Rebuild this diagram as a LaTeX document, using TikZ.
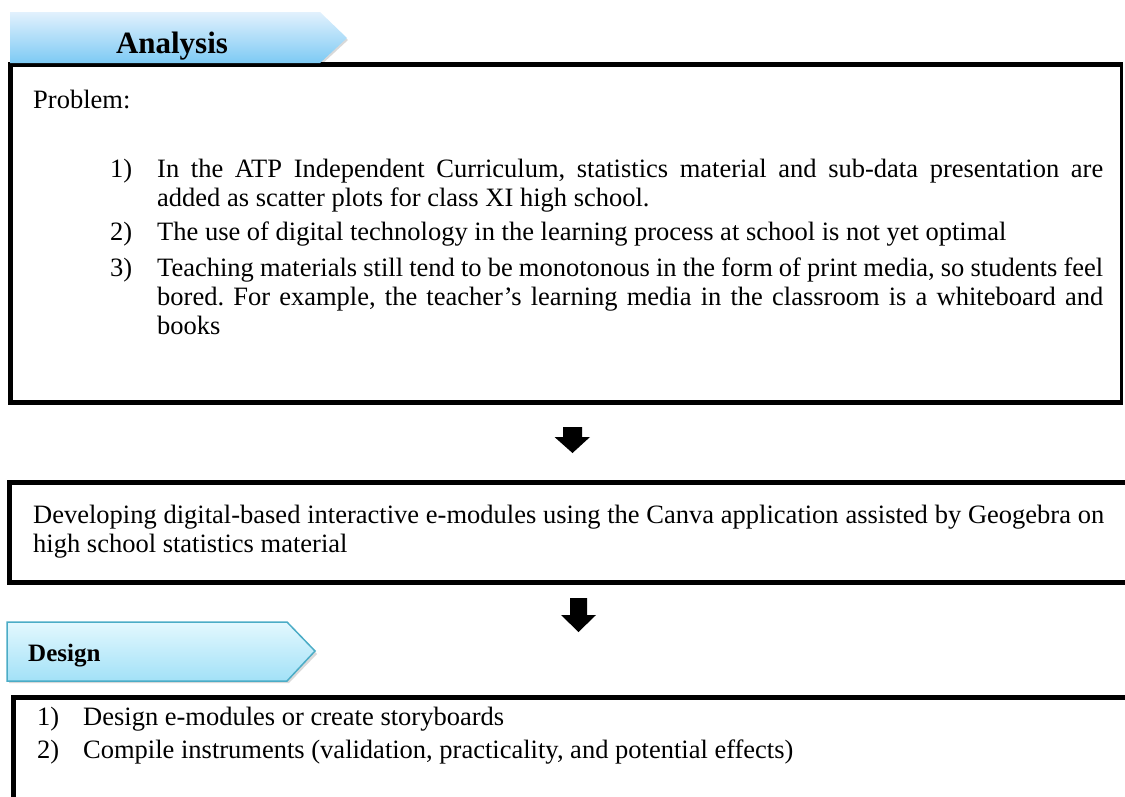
\documentclass[tikz,border=0pt]{standalone}
\usepackage{fontspec}
\setmainfont{Liberation Serif}
\frenchspacing
\definecolor{tagtopA}{HTML}{E2F1FD}
\definecolor{tagbotA}{HTML}{7DCAF4}
\definecolor{tagtopD}{HTML}{E3F8FE}
\definecolor{tagbotD}{HTML}{A2E1F7}
\definecolor{tagedge}{HTML}{4BACC6}
\begin{document}
\begin{tikzpicture}[x=1pt,y=-1pt,
  body/.style={inner sep=0pt, font=\fontsize{26.5}{29}\selectfont},
  para/.style={body, anchor=base west, align=justify, text width=#1},
  num/.style={body, anchor=base west},
  boxline/.style={line width=5pt, line join=miter},
  tagshadow/.style={fill=black, opacity=0.15},
  blockarrow/.style={fill=black}]
\useasboundingbox (0,0) rectangle (1125,796);
\clip (0,0) rectangle (1125,796);

% ---------- Analysis stage ----------
\draw[boxline] (1121,64.5) -- (10.5,64.5) -- (10.5,402) -- (1121,402);
\draw[line width=2.5pt] (1121.5,62) -- (1121.5,404.5);

\fill[tagshadow] (11,14) -- (321,14) -- (348,40) -- (321,65) -- (11,65) -- cycle;
\shade[top color=tagtopA, bottom color=tagbotA]
  (10,12) -- (320,12) -- (347,38) -- (320,63) -- (10,63) -- cycle;
\node[inner sep=0pt, anchor=base, font=\bfseries\fontsize{31}{36}\selectfont]
  (analysis) at (172,53) {Analysis};

\node[num] (problem) at (33,108) {Problem:};
\node[num] (p1n) at (110,177) {1)};
\node[para=946pt] (p1) at (157,177)
  {In the ATP Independent Curriculum, statistics material and sub-data presentation are\linebreak added as scatter plots for class XI high school.};
\node[num] (p2n) at (110,240) {2)};
\node[para=946pt] (p2) at (157,240)
  {The use of digital technology in the learning process at school is not yet optimal};
\node[num] (p3n) at (110,276) {3)};
\node[para=946pt] (p3) at (157,276)
  {Teaching materials still tend to be monotonous in the form of print media, so students feel\linebreak bored. For example, the teacher's learning media in the classroom is a whiteboard and\linebreak books};

% ---------- arrow to the development goal ----------
\coordinate (arrowA) at (572.5,427);
\fill[blockarrow] (arrowA) ++(-9.5,0) -- ++(19,0) -- ++(0,10) -- ++(8,0)
  -- (572.5,453) -- (554.5,437) -- ++(8.5,0) -- cycle;

% ---------- Development goal ----------
\draw[boxline] (1130,482.5) -- (9.5,482.5) -- (9.5,582.5) -- (1130,582.5);
\node[body, anchor=base west, align=justify, text width=1071pt] (goal) at (33,523)
  {Developing digital-based interactive e-modules using the Canva application assisted by Geogebra on\linebreak high school statistics material};

% ---------- arrow to design ----------
\coordinate (arrowB) at (578.5,598);
\fill[blockarrow] (arrowB) ++(-8.5,0) -- ++(17,0) -- ++(0,17) -- ++(9,0)
  -- (578.5,632) -- (561,615) -- ++(9,0) -- cycle;

% ---------- Design stage ----------
\fill[tagshadow] (9,625) -- (289,625) -- (317,654) -- (289,683) -- (9,683) -- cycle;
\shade[top color=tagtopD, bottom color=tagbotD]
  (7,622) -- (287,622) -- (315,651) -- (287,681) -- (7,681) -- cycle;
\draw[tagedge, line width=1.5pt, line join=miter]
  (7,622) -- (287,622) -- (315,651) -- (287,681) -- (7,681) -- cycle;
\node[inner sep=0pt, anchor=base west, font=\bfseries\fontsize{25}{30}\selectfont]
  (design) at (28,661) {Design};

\draw[boxline] (1130,697.5) -- (13.5,697.5) -- (13.5,800);
\node[num] (d1n) at (37,725) {1)};
\node[num] (d1) at (83,725) {Design e-modules or create storyboards};
\node[num] (d2n) at (37,758) {2)};
\node[num] (d2) at (83,758) {Compile instruments (validation, practicality, and potential effects)};
\end{tikzpicture}
\end{document}
